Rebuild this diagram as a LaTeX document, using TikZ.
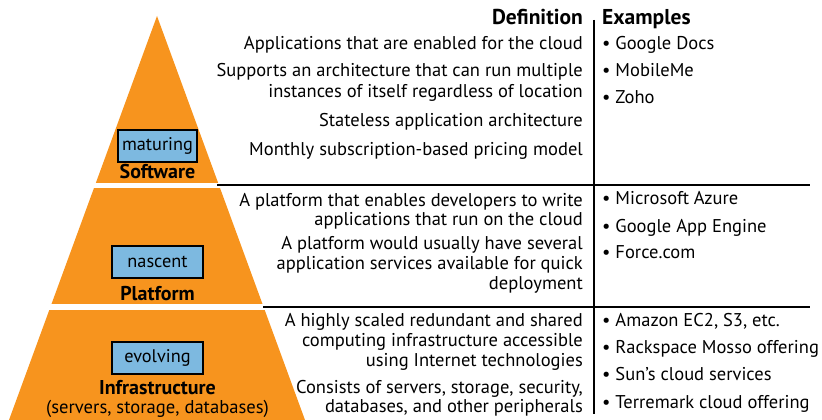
\documentclass[tikz,border=0pt]{standalone}
\usepackage{fontspec}
\setmainfont{PT Sans}
\definecolor{pyrorange}{HTML}{F7941E}
\definecolor{boxblue}{HTML}{7DB9E0}
\begin{document}
\begin{tikzpicture}[x=1pt,y=-1pt,
  deftxt/.style={anchor=base east,inner sep=0pt,font=\fontsize{18.5}{20}\selectfont},
  extxt/.style={anchor=base west,inner sep=0pt,font=\fontsize{18.5}{20}\selectfont},
  headtxt/.style={inner sep=0pt,font=\fontsize{21.5}{22}\selectfont\bfseries},
  layername/.style={anchor=base,inner sep=0pt,font=\fontsize{20}{20}\selectfont\bfseries},
  layersub/.style={anchor=base,inner sep=0pt,font=\fontsize{18.6}{20}\selectfont},
  statebox/.style={draw=black,line width=2pt,fill=boxblue,minimum height=32pt,inner sep=0pt,font=\fontsize{18.3}{20}\selectfont},
  rule/.style={line width=1.8pt,black}]
\useasboundingbox (0,0) rectangle (822,420);
% pyramid
\begin{scope}
  \clip (157,16) -- (9,420) -- (305,420) -- cycle;
  \fill[pyrorange] (0,0) rectangle (822,183);
  \fill[pyrorange] (0,188) rectangle (822,304);
  \fill[pyrorange] (0,310) rectangle (822,420);
\end{scope}
% rules
\coordinate (r1a) at (217,185);
\coordinate (r1b) at (810,185);
\coordinate (r2a) at (263,307);
\coordinate (r2b) at (810,307);
\coordinate (va) at (594,20);
\coordinate (vb) at (594,414);
\draw[rule] (r1a) -- (r1b);
\draw[rule] (r2a) -- (r2b);
\draw[rule] (va) -- (vb);
% headings
\node[headtxt,anchor=base east] (hdef) at (583,25) {Definition};
\node[headtxt,anchor=base west] (hex) at (602,25) {Examples};
% pyramid labels
\node[statebox,minimum width=79pt] (sbox) at (157.5,145.5) {maturing};
\node[layername] (sname) at (157.5,178.5) {Software};
\node[statebox,minimum width=91pt] (pbox) at (157.5,262) {nascent};
\node[layername] (pname) at (157.5,300) {Platform};
\node[statebox,minimum width=91pt] (ibox) at (157.5,357.5) {evolving};
\node[layername] (iname) at (157.5,394) {Infrastructure};
\node[layersub] (isub) at (157.5,413) {(servers, storage, databases)};
% software definitions
\node[deftxt] (d1) at (583,50) {Applications that are enabled for the cloud};
\node[deftxt] (d2) at (583,77) {Supports an architecture that can run multiple};
\node[deftxt] (d3) at (583,97) {instances of itself regardless of location};
\node[deftxt] (d4) at (583,126) {Stateless application architecture};
\node[deftxt] (d5) at (583,155) {Monthly subscription-based pricing model};
% platform definitions
\node[deftxt] (d6) at (583,206) {A platform that enables developers to write};
\node[deftxt] (d7) at (583,225) {applications that run on the cloud};
\node[deftxt] (d8) at (583,249) {A platform would usually have several};
\node[deftxt] (d9) at (583,269) {application services available for quick};
\node[deftxt] (d10) at (583,289) {deployment};
% infrastructure definitions
\node[deftxt] (d11) at (583,326) {A highly scaled redundant and shared};
\node[deftxt] (d12) at (583,346) {computing infrastructure accessible};
\node[deftxt] (d13) at (583,366) {using Internet technologies};
\node[deftxt] (d14) at (583,393) {Consists of servers, storage, security,};
\node[deftxt] (d15) at (583,412) {databases, and other peripherals};
% examples
\node[extxt] (e1) at (602,50) {• Google Docs};
\node[extxt] (e2) at (602,77) {• MobileMe};
\node[extxt] (e3) at (602,103) {• Zoho};
\node[extxt] (e4) at (602,204) {• Microsoft Azure};
\node[extxt] (e5) at (602,232) {• Google App Engine};
\node[extxt] (e6) at (602,258) {• Force.com};
\node[extxt] (e7) at (602,326) {• Amazon EC2, S3, etc.};
\node[extxt] (e8) at (602,353) {• Rackspace Mosso offering};
\node[extxt] (e9) at (602,380) {• Sun’s cloud services};
\node[extxt] (e10) at (602,408) {• Terremark cloud offering};
\end{tikzpicture}
\end{document}
